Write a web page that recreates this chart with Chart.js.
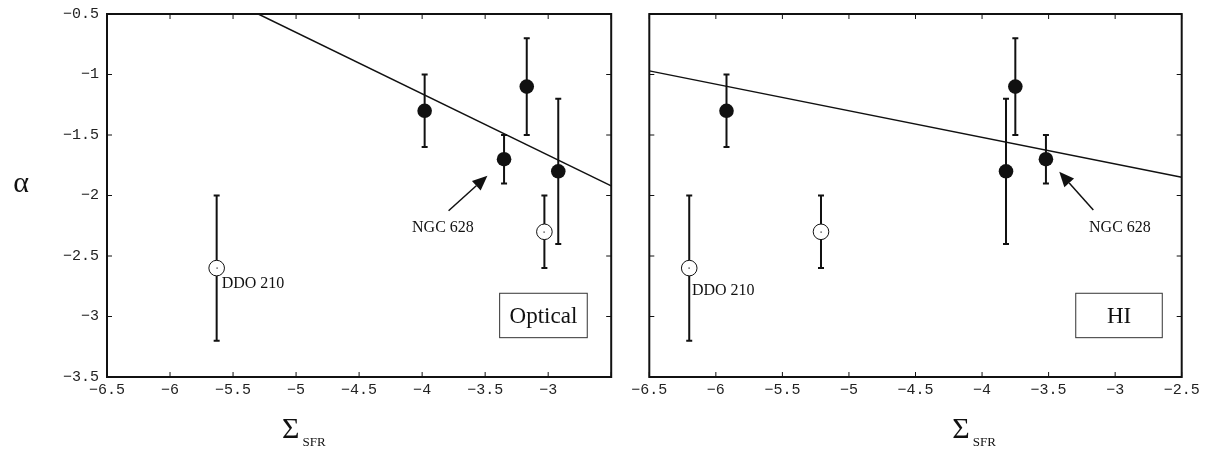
<!DOCTYPE html>
<html>
<head>
<meta charset="utf-8">
<script src="https://cdn.jsdelivr.net/npm/chart.js@4.4.1/dist/chart.umd.min.js"></script>
<style>
    html, body { margin: 0; padding: 0; background: #fff; }
    #wrap { position: relative; width: 1205px; height: 450px; }
    .panel { position: absolute; top: 0; height: 450px; }
    #optPanel { left: 0; width: 620px; }
    #hiPanel { left: 620px; width: 585px; }
</style>
</head>
<body>
<div id="wrap">
    <div class="panel" id="optPanel"><canvas id="optChart"></canvas></div>
    <div class="panel" id="hiPanel"><canvas id="hiChart"></canvas></div>
</div>
<script>
// axis ranges (log Sigma_SFR on x, alpha on y)
const xRange = [-6.5, -2.5];
const yRange = [-3.5, -0.5];
const tickStep = 0.5;

// Optical panel
const optFilledX = [-3.98, -3.35, -3.17, -2.92];
const optFilledY = [-1.3, -1.7, -1.1, -1.8];
const optFilledErr = [0.3, 0.2, 0.4, 0.6];
const optOpenX = [-5.63, -3.03];
const optOpenY = [-2.6, -2.3];
const optOpenErr = [0.6, 0.3];
const optFitX = [-5.3, -2.5];
const optFitY = [-0.5, -1.92];

// HI panel
const hiFilledX = [-5.92, -3.75, -3.82, -3.52];
const hiFilledY = [-1.3, -1.1, -1.8, -1.7];
const hiFilledErr = [0.3, 0.4, 0.6, 0.2];
const hiOpenX = [-6.2, -5.21];
const hiOpenY = [-2.6, -2.3];
const hiOpenErr = [0.6, 0.3];
const hiFitX = [-6.5, -2.5];
const hiFitY = [-0.97, -1.85];

const INK = '#111';
const SERIF = '"Liberation Serif", "DejaVu Serif", serif';
const MONO = '"Liberation Mono", "DejaVu Sans Mono", monospace';

function toPoints(xs, ys) {
    return xs.map((v, i) => ({ x: v, y: ys[i] }));
}

function fmtTick(v) {
    return String(v).replace('-', '\u2212');
}

// draws error bars, frame with inward ticks, notes and axis titles
function makeDecor(cfg) {
    return {
        id: 'decor_' + cfg.name,
        beforeDatasetsDraw(chart) {
            const { ctx, scales: { x, y } } = chart;
            ctx.save();
            ctx.strokeStyle = INK;
            ctx.lineWidth = 2;
            cfg.bars.forEach(b => {
                b.xs.forEach((xv, i) => {
                    const px = x.getPixelForValue(xv);
                    const hi = y.getPixelForValue(b.ys[i] + b.errs[i]);
                    const lo = y.getPixelForValue(b.ys[i] - b.errs[i]);
                    ctx.beginPath();
                    ctx.moveTo(px, hi); ctx.lineTo(px, lo);
                    ctx.moveTo(px - 3, hi); ctx.lineTo(px + 3, hi);
                    ctx.moveTo(px - 3, lo); ctx.lineTo(px + 3, lo);
                    ctx.stroke();
                });
            });
            ctx.restore();
        },
        afterDatasetsDraw(chart) {
            const { ctx, chartArea: a, scales: { x, y } } = chart;
            ctx.save();
            ctx.fillStyle = INK;
            ctx.strokeStyle = INK;

            // centre dots of open circles
            cfg.openX.forEach((xv, i) => {
                ctx.fillRect(Math.round(x.getPixelForValue(xv)) - 0.5, Math.round(y.getPixelForValue(cfg.openY[i])) - 0.5, 1.2, 1.2);
            });

            // frame
            ctx.lineWidth = 2;
            ctx.strokeRect(a.left, a.top, a.right - a.left, a.bottom - a.top);

            // inward ticks on all four sides
            ctx.lineWidth = 1;
            ctx.beginPath();
            x.ticks.forEach(t => {
                const px = x.getPixelForValue(t.value);
                ctx.moveTo(px, a.bottom); ctx.lineTo(px, a.bottom - 5);
                ctx.moveTo(px, a.top); ctx.lineTo(px, a.top + 5);
            });
            y.ticks.forEach(t => {
                const py = y.getPixelForValue(t.value);
                ctx.moveTo(a.left, py); ctx.lineTo(a.left + 5, py);
                ctx.moveTo(a.right, py); ctx.lineTo(a.right - 5, py);
            });
            ctx.stroke();

            // text notes
            ctx.font = '16px ' + SERIF;
            ctx.textBaseline = 'middle';
            cfg.notes.forEach(n => {
                ctx.textAlign = n.align;
                ctx.fillText(n.text, x.getPixelForValue(n.x), y.getPixelForValue(n.y));
            });

            // arrows
            cfg.arrows.forEach(ar => {
                const x0 = x.getPixelForValue(ar.x0), y0 = y.getPixelForValue(ar.y0);
                const x1 = x.getPixelForValue(ar.x1), y1 = y.getPixelForValue(ar.y1);
                const ang = Math.atan2(y1 - y0, x1 - x0);
                const hl = 15, hw = 6.5;
                const bx = x1 - hl * Math.cos(ang), by = y1 - hl * Math.sin(ang);
                ctx.lineWidth = 1.5;
                ctx.beginPath();
                ctx.moveTo(x0, y0); ctx.lineTo(bx, by);
                ctx.stroke();
                ctx.beginPath();
                ctx.moveTo(x1, y1);
                ctx.lineTo(bx + hw * Math.sin(ang), by - hw * Math.cos(ang));
                ctx.lineTo(bx - hw * Math.sin(ang), by + hw * Math.cos(ang));
                ctx.closePath();
                ctx.fill();
            });

            // boxed panel label
            const bx1 = x.getPixelForValue(cfg.box.x1), bx2 = x.getPixelForValue(cfg.box.x2);
            const by1 = y.getPixelForValue(cfg.box.y1), by2 = y.getPixelForValue(cfg.box.y2);
            ctx.lineWidth = 1;
            ctx.strokeStyle = '#333';
            ctx.strokeRect(bx1, by1, bx2 - bx1, by2 - by1);
            ctx.font = '23px ' + SERIF;
            ctx.textAlign = 'center';
            ctx.fillText(cfg.box.text, (bx1 + bx2) / 2, (by1 + by2) / 2 + 1);

            // axis titles
            ctx.textAlign = 'left';
            ctx.textBaseline = 'alphabetic';
            ctx.font = '30px ' + SERIF;
            ctx.fillText('\u03A3', a.left + cfg.sigmaOffset, 438);
            const sw = ctx.measureText('\u03A3').width;
            ctx.font = '13px ' + SERIF;
            ctx.fillText('SFR', a.left + cfg.sigmaOffset + sw + 3, 446);
            if (cfg.showAlpha) {
                ctx.font = '30px ' + SERIF;
                ctx.textAlign = 'center';
                ctx.textBaseline = 'middle';
                ctx.fillText('\u03B1', 21, 184);
            }
            ctx.restore();
        }
    };
}

function buildPanel(canvasId, cfg) {
    const tickFont = { family: MONO, size: 15 };
    return new Chart(document.getElementById(canvasId), {
        type: 'scatter',
        data: {
            datasets: [
                {
                    data: toPoints(cfg.filledX, cfg.filledY),
                    pointRadius: 7.3,
                    pointBackgroundColor: INK,
                    pointBorderColor: INK,
                    pointBorderWidth: 0
                },
                {
                    data: toPoints(cfg.openX, cfg.openY),
                    pointRadius: 7.8,
                    pointBackgroundColor: '#fff',
                    pointBorderColor: INK,
                    pointBorderWidth: 1
                },
                {
                    data: toPoints(cfg.fitX, cfg.fitY),
                    showLine: true,
                    borderColor: INK,
                    borderWidth: 1.5,
                    pointRadius: 0
                }
            ]
        },
        options: {
            responsive: true,
            maintainAspectRatio: false,
            animation: false,
            events: [],
            layout: { padding: { top: 14, right: cfg.padRight, bottom: 0, left: 0 } },
            plugins: { legend: { display: false }, tooltip: { enabled: false } },
            scales: {
                x: {
                    type: 'linear',
                    min: xRange[0],
                    max: xRange[1],
                    grid: { display: false, drawTicks: false },
                    border: { display: false },
                    ticks: {
                        stepSize: tickStep,
                        autoSkip: false,
                        maxRotation: 0,
                        padding: 4,
                        color: '#222',
                        font: tickFont,
                        callback: v => (cfg.hideLastX && v === xRange[1]) ? '' : fmtTick(v)
                    },
                    afterFit: s => {
                        s.height = 73;
                        s.paddingLeft = 0;
                        s.paddingRight = 0;
                    }
                },
                y: {
                    type: 'linear',
                    min: yRange[0],
                    max: yRange[1],
                    grid: { display: false, drawTicks: false },
                    border: { display: false },
                    ticks: {
                        display: cfg.showYLabels,
                        stepSize: tickStep,
                        padding: 8,
                        color: '#222',
                        font: tickFont,
                        callback: v => fmtTick(v)
                    },
                    afterFit: s => {
                        s.width = cfg.yWidth;
                        s.paddingTop = 0;
                        s.paddingBottom = 0;
                    }
                }
            }
        },
        plugins: [makeDecor(cfg)]
    });
}

buildPanel('optChart', {
    name: 'opt',
    filledX: optFilledX, filledY: optFilledY,
    openX: optOpenX, openY: optOpenY,
    fitX: optFitX, fitY: optFitY,
    bars: [
        { xs: optFilledX, ys: optFilledY, errs: optFilledErr },
        { xs: optOpenX, ys: optOpenY, errs: optOpenErr }
    ],
    notes: [
        { text: 'DDO 210', x: -5.59, y: -2.73, align: 'left' },
        { text: 'NGC 628', x: -3.835, y: -2.27, align: 'center' }
    ],
    arrows: [{ x0: -3.79, y0: -2.126, x1: -3.482, y1: -1.836 }],
    box: { text: 'Optical', x1: -3.385, x2: -2.69, y1: -2.808, y2: -3.175 },
    padRight: 8,
    yWidth: 107,
    showYLabels: true,
    hideLastX: true,
    sigmaOffset: 175,
    showAlpha: true
});

buildPanel('hiChart', {
    name: 'hi',
    filledX: hiFilledX, filledY: hiFilledY,
    openX: hiOpenX, openY: hiOpenY,
    fitX: hiFitX, fitY: hiFitY,
    bars: [
        { xs: hiFilledX, ys: hiFilledY, errs: hiFilledErr },
        { xs: hiOpenX, ys: hiOpenY, errs: hiOpenErr }
    ],
    notes: [
        { text: 'DDO 210', x: -6.18, y: -2.79, align: 'left' },
        { text: 'NGC 628', x: -2.964, y: -2.27, align: 'center' }
    ],
    arrows: [{ x0: -3.164, y0: -2.12, x1: -3.42, y1: -1.803 }],
    box: { text: 'HI', x1: -3.296, x2: -2.646, y1: -2.808, y2: -3.175 },
    padRight: 23.3,
    yWidth: 29.3,
    showYLabels: false,
    hideLastX: false,
    sigmaOffset: 303,
    showAlpha: false
});
</script>
</body>
</html>
